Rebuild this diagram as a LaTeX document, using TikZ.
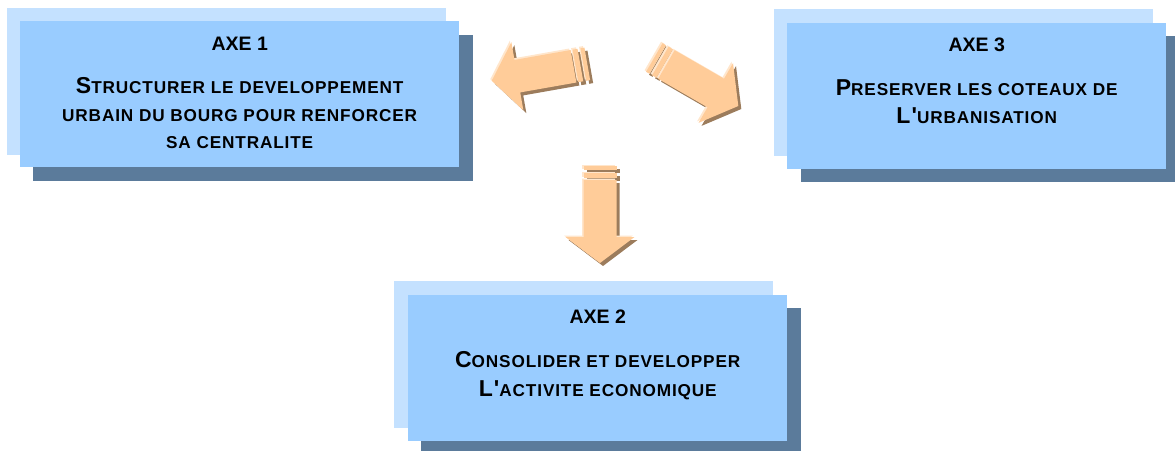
\documentclass[tikz,border=0pt]{standalone}
\usepackage{fontspec}
\setmainfont{Liberation Sans}
\newfontfamily\spacedfont[LetterSpace=5]{Liberation Sans}
\usetikzlibrary{calc}
\definecolor{backblue}{HTML}{C4E1FF}
\definecolor{mainblue}{HTML}{99CCFF}
\definecolor{shadowblue}{HTML}{5B7B9B}
\definecolor{peach}{HTML}{FFCC99}
\definecolor{peachlight}{HTML}{FFE6CC}
\definecolor{peachdark}{HTML}{9C7C5C}
\newcommand\firstcap[1]{{\fontsize{23}{24}\selectfont #1}}
\tikzset{
  backbox/.style={fill=backblue, inner sep=0pt, anchor=north west},
  mainbox/.style={fill=mainblue, inner sep=0pt, anchor=north west},
  shadowbox/.style={fill=shadowblue, inner sep=0pt, anchor=north west},
  titletext/.style={inner sep=0pt, anchor=base, font=\fontsize{19.5}{20}\selectfont\bfseries},
  bodytext/.style={inner sep=0pt, anchor=base, font=\spacedfont\fontsize{17.2}{20}\selectfont\bfseries},
  pics/blockarrow/.style={code={
    \fill[#1] (-47,-16.5) rectangle (-43,16.5);
    \fill[#1] (-40,-16.5) rectangle (-35,16.5);
    \fill[#1] (-33,-16.5) -- (24,-16.5) -- (24,-34.5) -- (50,0) -- (24,34.5) -- (24,16.5) -- (-33,16.5) -- cycle;
  }}
}
\begin{document}
\begin{tikzpicture}[x=1pt,y=-1pt]
\useasboundingbox (0,0) rectangle (1175,450);
% ---- AXE 1 ----
\node[backbox, minimum width=439pt, minimum height=147pt] (k1) at (7,8) {};
\node[shadowbox, minimum width=440pt, minimum height=146pt] (s1) at (33,35) {};
\node[mainbox, minimum width=439pt, minimum height=146pt] (m1) at (20,21) {};
\node[titletext] (t1) at ($(m1.north)+(0,29.5)$) {AXE 1};
\node[bodytext] (t1a) at ($(m1.north)+(0,72)$) {\firstcap{S}TRUCTURER LE DEVELOPPEMENT};
\node[bodytext] (t1b) at ($(m1.north)+(0,100)$) {URBAIN DU BOURG POUR RENFORCER};
\node[bodytext] (t1c) at ($(m1.north)+(0,127)$) {SA CENTRALITE};
% ---- AXE 3 ----
\node[backbox, minimum width=379pt, minimum height=147pt] (k3) at (774,9) {};
\node[shadowbox, minimum width=380pt, minimum height=146pt] (s3) at (801,36) {};
\node[mainbox, minimum width=379pt, minimum height=146pt] (m3) at (787,23) {};
\node[titletext] (t3) at ($(m3.north)+(0,28.5)$) {AXE 3};
\node[bodytext] (t3a) at ($(m3.north)+(0,72.5)$) {\firstcap{P}RESERVER LES COTEAUX DE};
\node[bodytext] (t3b) at ($(m3.north)+(0,100)$) {\firstcap{L'}URBANISATION};
% ---- AXE 2 ----
\node[backbox, minimum width=379pt, minimum height=147pt] (k2) at (394,281) {};
\node[shadowbox, minimum width=380pt, minimum height=146pt] (s2) at (421,308) {};
\node[mainbox, minimum width=379pt, minimum height=146pt] (m2) at (408,295) {};
\node[titletext] (t2) at ($(m2.north)+(0,28.5)$) {AXE 2};
\node[bodytext] (t2a) at ($(m2.north)+(0,72)$) {\firstcap{C}ONSOLIDER ET DEVELOPPER};
\node[bodytext] (t2b) at ($(m2.north)+(0,101)$) {\firstcap{L'}ACTIVITE ECONOMIQUE};
% ---- arrows ----
\pic[rotate=-90] (adS) at (603,216) {blockarrow=peachdark};
\pic[rotate=-90] (adH) at (598.5,211.5) {blockarrow=peachlight};
\pic[rotate=-90] (adM) at (600,213) {blockarrow=peach};
\pic[rotate=190] (alS) at (544,75) {blockarrow=peachdark};
\pic[rotate=190] (alH) at (539.5,70.5) {blockarrow=peachlight};
\pic[rotate=190] (alM) at (541,72) {blockarrow=peach};
\pic[rotate=-30] (arS) at (698,84) {blockarrow=peachdark};
\pic[rotate=-30] (arH) at (693.5,79.5) {blockarrow=peachlight};
\pic[rotate=-30] (arM) at (695,81) {blockarrow=peach};
\end{tikzpicture}
\end{document}
